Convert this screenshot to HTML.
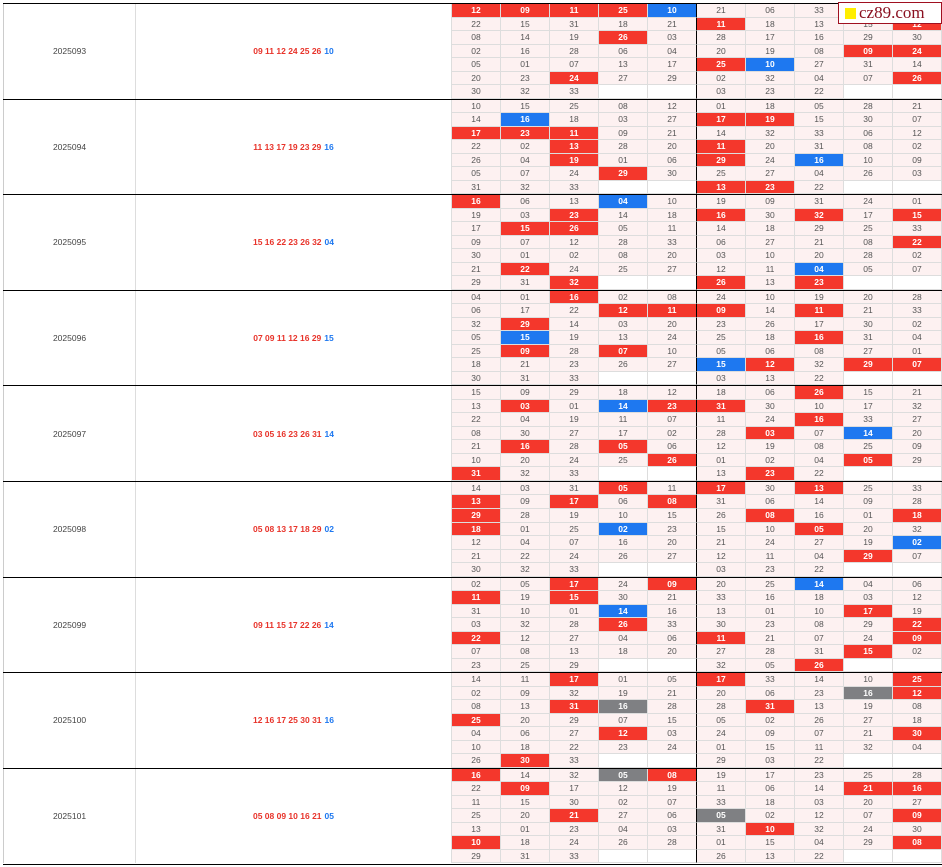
<!DOCTYPE html>
<html><head><meta charset="utf-8"><style>
*{margin:0;padding:0;box-sizing:border-box}
body{width:942px;height:867px;background:#fff;overflow:hidden;font-family:"Liberation Sans","Noto Sans CJK SC",sans-serif;position:relative}
.wrap{position:absolute;left:3px;top:3px;width:939px}
.blk{height:95.6px;border-top:1.5px solid #000;display:flex;position:relative}
.c1{width:133px;border-left:1px solid #ccc;border-right:1px solid #ddd;font-size:8.5px;color:#444;display:flex;align-items:center;justify-content:center}
.c2{width:316px;font-size:8.5px;font-weight:bold;color:#e8332a;display:flex;align-items:center;justify-content:center;border-right:1px solid #ddd;word-spacing:0px}
.c2 span{color:#1e78f0;margin-left:3px}
.g{display:grid;grid-template-columns:repeat(10,49px);grid-template-rows:repeat(7,1fr);width:490px}
.g i{font-style:normal;font-size:8.5px;color:#555;background:#fdf1f1;border-right:1px solid #ddd;border-bottom:1px solid #ddd;display:flex;align-items:center;justify-content:center;line-height:1}
.g i:nth-child(10n+5){border-right:1px solid #000}
.g i.r{background:#f4372c;color:#fff;font-weight:bold}
.g i.b{background:#1e78f0;color:#fff;font-weight:bold}
.g i.x{background:#7f8083;color:#fff;font-weight:bold}
.g i.e{background:#fff}
.wm{position:absolute;left:838px;top:2px;width:104px;height:22px;background:#fff;border:1px solid #a01020;display:flex;align-items:center;font-family:"Liberation Serif",serif;font-size:17px;color:#8a1020}
.wm b{display:inline-block;width:11px;height:11px;background:#ffee00;margin:0 3px 0 6px}
.end{position:absolute;left:3px;top:863.5px;width:939px;border-top:1.5px solid #000}
</style></head><body>
<div class="wrap">
<div class="blk"><div class="c1">2025093</div><div class="c2">09 11 12 24 25 26<span>10</span></div><div class="g">
<i class="r">12</i><i class="r">09</i><i class="r">11</i><i class="r">25</i><i class="b">10</i><i>21</i><i>06</i><i>33</i><i>15</i><i>12</i>
<i>22</i><i>15</i><i>31</i><i>18</i><i>21</i><i class="r">11</i><i>18</i><i>13</i><i>15</i><i class="r">12</i>
<i>08</i><i>14</i><i>19</i><i class="r">26</i><i>03</i><i>28</i><i>17</i><i>16</i><i>29</i><i>30</i>
<i>02</i><i>16</i><i>28</i><i>06</i><i>04</i><i>20</i><i>19</i><i>08</i><i class="r">09</i><i class="r">24</i>
<i>05</i><i>01</i><i>07</i><i>13</i><i>17</i><i class="r">25</i><i class="b">10</i><i>27</i><i>31</i><i>14</i>
<i>20</i><i>23</i><i class="r">24</i><i>27</i><i>29</i><i>02</i><i>32</i><i>04</i><i>07</i><i class="r">26</i>
<i>30</i><i>32</i><i>33</i><i class="e"></i><i class="e"></i><i>03</i><i>23</i><i>22</i><i class="e"></i><i class="e"></i>
</div></div>
<div class="blk"><div class="c1">2025094</div><div class="c2">11 13 17 19 23 29<span>16</span></div><div class="g">
<i>10</i><i>15</i><i>25</i><i>08</i><i>12</i><i>01</i><i>18</i><i>05</i><i>28</i><i>21</i>
<i>14</i><i class="b">16</i><i>18</i><i>03</i><i>27</i><i class="r">17</i><i class="r">19</i><i>15</i><i>30</i><i>07</i>
<i class="r">17</i><i class="r">23</i><i class="r">11</i><i>09</i><i>21</i><i>14</i><i>32</i><i>33</i><i>06</i><i>12</i>
<i>22</i><i>02</i><i class="r">13</i><i>28</i><i>20</i><i class="r">11</i><i>20</i><i>31</i><i>08</i><i>02</i>
<i>26</i><i>04</i><i class="r">19</i><i>01</i><i>06</i><i class="r">29</i><i>24</i><i class="b">16</i><i>10</i><i>09</i>
<i>05</i><i>07</i><i>24</i><i class="r">29</i><i>30</i><i>25</i><i>27</i><i>04</i><i>26</i><i>03</i>
<i>31</i><i>32</i><i>33</i><i class="e"></i><i class="e"></i><i class="r">13</i><i class="r">23</i><i>22</i><i class="e"></i><i class="e"></i>
</div></div>
<div class="blk"><div class="c1">2025095</div><div class="c2">15 16 22 23 26 32<span>04</span></div><div class="g">
<i class="r">16</i><i>06</i><i>13</i><i class="b">04</i><i>10</i><i>19</i><i>09</i><i>31</i><i>24</i><i>01</i>
<i>19</i><i>03</i><i class="r">23</i><i>14</i><i>18</i><i class="r">16</i><i>30</i><i class="r">32</i><i>17</i><i class="r">15</i>
<i>17</i><i class="r">15</i><i class="r">26</i><i>05</i><i>11</i><i>14</i><i>18</i><i>29</i><i>25</i><i>33</i>
<i>09</i><i>07</i><i>12</i><i>28</i><i>33</i><i>06</i><i>27</i><i>21</i><i>08</i><i class="r">22</i>
<i>30</i><i>01</i><i>02</i><i>08</i><i>20</i><i>03</i><i>10</i><i>20</i><i>28</i><i>02</i>
<i>21</i><i class="r">22</i><i>24</i><i>25</i><i>27</i><i>12</i><i>11</i><i class="b">04</i><i>05</i><i>07</i>
<i>29</i><i>31</i><i class="r">32</i><i class="e"></i><i class="e"></i><i class="r">26</i><i>13</i><i class="r">23</i><i class="e"></i><i class="e"></i>
</div></div>
<div class="blk"><div class="c1">2025096</div><div class="c2">07 09 11 12 16 29<span>15</span></div><div class="g">
<i>04</i><i>01</i><i class="r">16</i><i>02</i><i>08</i><i>24</i><i>10</i><i>19</i><i>20</i><i>28</i>
<i>06</i><i>17</i><i>22</i><i class="r">12</i><i class="r">11</i><i class="r">09</i><i>14</i><i class="r">11</i><i>21</i><i>33</i>
<i>32</i><i class="r">29</i><i>14</i><i>03</i><i>20</i><i>23</i><i>26</i><i>17</i><i>30</i><i>02</i>
<i>05</i><i class="b">15</i><i>19</i><i>13</i><i>24</i><i>25</i><i>18</i><i class="r">16</i><i>31</i><i>04</i>
<i>25</i><i class="r">09</i><i>28</i><i class="r">07</i><i>10</i><i>05</i><i>06</i><i>08</i><i>27</i><i>01</i>
<i>18</i><i>21</i><i>23</i><i>26</i><i>27</i><i class="b">15</i><i class="r">12</i><i>32</i><i class="r">29</i><i class="r">07</i>
<i>30</i><i>31</i><i>33</i><i class="e"></i><i class="e"></i><i>03</i><i>13</i><i>22</i><i class="e"></i><i class="e"></i>
</div></div>
<div class="blk"><div class="c1">2025097</div><div class="c2">03 05 16 23 26 31<span>14</span></div><div class="g">
<i>15</i><i>09</i><i>29</i><i>18</i><i>12</i><i>18</i><i>06</i><i class="r">26</i><i>15</i><i>21</i>
<i>13</i><i class="r">03</i><i>01</i><i class="b">14</i><i class="r">23</i><i class="r">31</i><i>30</i><i>10</i><i>17</i><i>32</i>
<i>22</i><i>04</i><i>19</i><i>11</i><i>07</i><i>11</i><i>24</i><i class="r">16</i><i>33</i><i>27</i>
<i>08</i><i>30</i><i>27</i><i>17</i><i>02</i><i>28</i><i class="r">03</i><i>07</i><i class="b">14</i><i>20</i>
<i>21</i><i class="r">16</i><i>28</i><i class="r">05</i><i>06</i><i>12</i><i>19</i><i>08</i><i>25</i><i>09</i>
<i>10</i><i>20</i><i>24</i><i>25</i><i class="r">26</i><i>01</i><i>02</i><i>04</i><i class="r">05</i><i>29</i>
<i class="r">31</i><i>32</i><i>33</i><i class="e"></i><i class="e"></i><i>13</i><i class="r">23</i><i>22</i><i class="e"></i><i class="e"></i>
</div></div>
<div class="blk"><div class="c1">2025098</div><div class="c2">05 08 13 17 18 29<span>02</span></div><div class="g">
<i>14</i><i>03</i><i>31</i><i class="r">05</i><i>11</i><i class="r">17</i><i>30</i><i class="r">13</i><i>25</i><i>33</i>
<i class="r">13</i><i>09</i><i class="r">17</i><i>06</i><i class="r">08</i><i>31</i><i>06</i><i>14</i><i>09</i><i>28</i>
<i class="r">29</i><i>28</i><i>19</i><i>10</i><i>15</i><i>26</i><i class="r">08</i><i>16</i><i>01</i><i class="r">18</i>
<i class="r">18</i><i>01</i><i>25</i><i class="b">02</i><i>23</i><i>15</i><i>10</i><i class="r">05</i><i>20</i><i>32</i>
<i>12</i><i>04</i><i>07</i><i>16</i><i>20</i><i>21</i><i>24</i><i>27</i><i>19</i><i class="b">02</i>
<i>21</i><i>22</i><i>24</i><i>26</i><i>27</i><i>12</i><i>11</i><i>04</i><i class="r">29</i><i>07</i>
<i>30</i><i>32</i><i>33</i><i class="e"></i><i class="e"></i><i>03</i><i>23</i><i>22</i><i class="e"></i><i class="e"></i>
</div></div>
<div class="blk"><div class="c1">2025099</div><div class="c2">09 11 15 17 22 26<span>14</span></div><div class="g">
<i>02</i><i>05</i><i class="r">17</i><i>24</i><i class="r">09</i><i>20</i><i>25</i><i class="b">14</i><i>04</i><i>06</i>
<i class="r">11</i><i>19</i><i class="r">15</i><i>30</i><i>21</i><i>33</i><i>16</i><i>18</i><i>03</i><i>12</i>
<i>31</i><i>10</i><i>01</i><i class="b">14</i><i>16</i><i>13</i><i>01</i><i>10</i><i class="r">17</i><i>19</i>
<i>03</i><i>32</i><i>28</i><i class="r">26</i><i>33</i><i>30</i><i>23</i><i>08</i><i>29</i><i class="r">22</i>
<i class="r">22</i><i>12</i><i>27</i><i>04</i><i>06</i><i class="r">11</i><i>21</i><i>07</i><i>24</i><i class="r">09</i>
<i>07</i><i>08</i><i>13</i><i>18</i><i>20</i><i>27</i><i>28</i><i>31</i><i class="r">15</i><i>02</i>
<i>23</i><i>25</i><i>29</i><i class="e"></i><i class="e"></i><i>32</i><i>05</i><i class="r">26</i><i class="e"></i><i class="e"></i>
</div></div>
<div class="blk"><div class="c1">2025100</div><div class="c2">12 16 17 25 30 31<span>16</span></div><div class="g">
<i>14</i><i>11</i><i class="r">17</i><i>01</i><i>05</i><i class="r">17</i><i>33</i><i>14</i><i>10</i><i class="r">25</i>
<i>02</i><i>09</i><i>32</i><i>19</i><i>21</i><i>20</i><i>06</i><i>23</i><i class="x">16</i><i class="r">12</i>
<i>08</i><i>13</i><i class="r">31</i><i class="x">16</i><i>28</i><i>28</i><i class="r">31</i><i>13</i><i>19</i><i>08</i>
<i class="r">25</i><i>20</i><i>29</i><i>07</i><i>15</i><i>05</i><i>02</i><i>26</i><i>27</i><i>18</i>
<i>04</i><i>06</i><i>27</i><i class="r">12</i><i>03</i><i>24</i><i>09</i><i>07</i><i>21</i><i class="r">30</i>
<i>10</i><i>18</i><i>22</i><i>23</i><i>24</i><i>01</i><i>15</i><i>11</i><i>32</i><i>04</i>
<i>26</i><i class="r">30</i><i>33</i><i class="e"></i><i class="e"></i><i>29</i><i>03</i><i>22</i><i class="e"></i><i class="e"></i>
</div></div>
<div class="blk"><div class="c1">2025101</div><div class="c2">05 08 09 10 16 21<span>05</span></div><div class="g">
<i class="r">16</i><i>14</i><i>32</i><i class="x">05</i><i class="r">08</i><i>19</i><i>17</i><i>23</i><i>25</i><i>28</i>
<i>22</i><i class="r">09</i><i>17</i><i>12</i><i>19</i><i>11</i><i>06</i><i>14</i><i class="r">21</i><i class="r">16</i>
<i>11</i><i>15</i><i>30</i><i>02</i><i>07</i><i>33</i><i>18</i><i>03</i><i>20</i><i>27</i>
<i>25</i><i>20</i><i class="r">21</i><i>27</i><i>06</i><i class="x">05</i><i>02</i><i>12</i><i>07</i><i class="r">09</i>
<i>13</i><i>01</i><i>23</i><i>04</i><i>03</i><i>31</i><i class="r">10</i><i>32</i><i>24</i><i>30</i>
<i class="r">10</i><i>18</i><i>24</i><i>26</i><i>28</i><i>01</i><i>15</i><i>04</i><i>29</i><i class="r">08</i>
<i>29</i><i>31</i><i>33</i><i class="e"></i><i class="e"></i><i>26</i><i>13</i><i>22</i><i class="e"></i><i class="e"></i>
</div></div>
</div>
<div class="end"></div>
<div class="wm"><b></b>cz89.com</div>
</body></html>
